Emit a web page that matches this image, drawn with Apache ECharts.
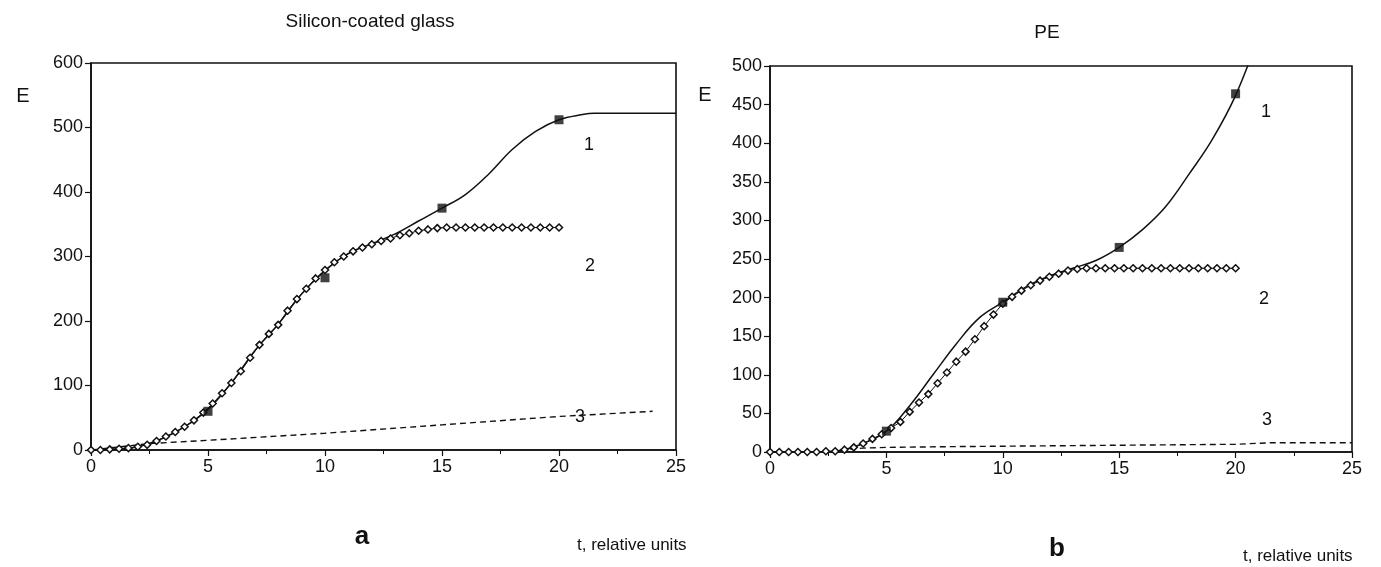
<!DOCTYPE html>
<html>
<head>
<meta charset="utf-8">
<style>
  html, body { margin: 0; padding: 0; background: #fff; }
  #chart { width: 1381px; height: 567px; }
</style>
<script src="https://cdn.jsdelivr.net/npm/echarts@6/dist/echarts.min.js"></script>
</head>
<body>
<div id="chart"></div>
<script>
// Sampling times of the open-marker curves (curve 2)
const tOpen = [0, 0.4, 0.8, 1.2, 1.6, 2, 2.4, 2.8, 3.2, 3.6, 4, 4.4, 4.8, 5.2, 5.6,
  6, 6.4, 6.8, 7.2, 7.6, 8, 8.4, 8.8, 9.2, 9.6, 10, 10.4, 10.8, 11.2, 11.6,
  12, 12.4, 12.8, 13.2, 13.6, 14, 14.4, 14.8, 15.2, 15.6, 16, 16.4, 16.8, 17.2, 17.6,
  18, 18.4, 18.8, 19.2, 19.6, 20];

// (a) Silicon-coated glass
const glassCurve2 = [0, 0, 1, 2, 3, 5, 8, 14, 21, 28, 36, 46, 58, 72, 88,
  104, 122, 143, 163, 180, 194, 216, 234, 250, 266, 279, 291, 300, 308, 314,
  319, 324, 328, 333, 336, 340, 342, 344, 345, 345, 345, 345, 345, 345, 345,
  345, 345, 345, 345, 345, 345];
const glassT1 = [0, 1, 2, 3, 4, 5, 6, 7, 8, 9, 10, 11, 12, 13, 14, 15, 16, 17, 18, 19, 20, 21, 21.5, 25];
const glassE1 = [0, 1, 5, 17, 36, 63, 104, 154, 195, 242, 278, 305, 320, 335, 355, 375, 396, 428, 466, 494, 512, 520, 522, 522];
const glassSqT = [5, 10, 15, 20];
const glassSqE = [60, 267, 375, 512];
const glassT3 = [0, 2.5, 5, 10, 15, 20, 24];
const glassE3 = [0, 10, 15, 26, 39, 52, 60];

// (b) PE
const peCurve2 = [0, 0, 0, 0, 0, 0, 1, 1, 3, 6, 11, 17, 23, 31, 39,
  52, 64, 75, 89, 103, 117, 130, 146, 163, 178, 192, 201, 209, 216, 222,
  227, 231, 235, 237, 238, 238, 238, 238, 238, 238, 238, 238, 238, 238, 238,
  238, 238, 238, 238, 238, 238];
const peT1 = [0, 1, 2, 3, 4, 5, 6, 7, 8, 9, 10, 11, 12, 13, 14, 15, 16, 17, 18, 19, 20, 21];
const peE1 = [0, 0, 0, 2, 11, 27, 60, 100, 140, 174, 194, 214, 228, 238, 248, 265, 288, 318, 360, 405, 462, 540];
const peSqT = [5, 10, 15, 20];
const peSqE = [27, 194, 265, 464];
const peT3 = [3, 4, 5, 8, 12, 16, 20, 21.5, 25];
const peE3 = [3, 5, 6, 7, 8, 9, 10, 12, 12];

const xTicks = [0, 5, 10, 15, 20, 25];
const glassYMax = 600, glassYStep = 100;
const peYMax = 500, peYStep = 50;

const zip = (xs, ys) => xs.map((x, i) => [x, ys[i]]);

const FONT = 'Liberation Sans, Arial, sans-serif';
const INK = '#111';

function xAxisFor(gridIndex) {
  return {
    type: 'value', gridIndex, min: 0, max: 25, interval: 5,
    axisLine: { show: true, lineStyle: { color: INK, width: 1.6 } },
    axisTick: { show: true, length: 6, lineStyle: { color: INK, width: 1.2 } },
    minorTick: { show: true, splitNumber: 2, length: 4, lineStyle: { color: INK, width: 1 } },
    axisLabel: { color: INK, fontFamily: FONT, fontSize: 18, margin: 8,
      formatter: v => xTicks.includes(v) ? String(v) : '' },
    splitLine: { show: false }
  };
}
function yAxisFor(gridIndex, max, step) {
  return {
    type: 'value', gridIndex, min: 0, max, interval: step,
    axisLine: { show: true, lineStyle: { color: INK, width: 1.6 } },
    axisTick: { show: true, length: 6, lineStyle: { color: INK, width: 1.2 } },
    axisLabel: { color: INK, fontFamily: FONT, fontSize: 18, margin: 8 },
    splitLine: { show: false }
  };
}

function curveSeries(idx, ts, es) {
  return { type: 'line', xAxisIndex: idx, yAxisIndex: idx, data: zip(ts, es),
    smooth: 0.4, symbol: 'none',
    lineStyle: { color: INK, width: 1.5 }, z: 3 };
}
function openSeries(idx, es) {
  return { type: 'line', xAxisIndex: idx, yAxisIndex: idx, data: zip(tOpen, es),
    symbol: 'diamond', symbolSize: [7, 7],
    itemStyle: { color: '#fff', borderColor: INK, borderWidth: 1.5 },
    lineStyle: { color: INK, width: 1 }, z: 4 };
}
function squareSeries(idx, ts, es) {
  return { type: 'scatter', xAxisIndex: idx, yAxisIndex: idx, data: zip(ts, es),
    symbol: 'rect', symbolSize: 9, itemStyle: { color: INK }, z: 5 };
}
function dashedSeries(idx, ts, es) {
  return { type: 'line', xAxisIndex: idx, yAxisIndex: idx, data: zip(ts, es),
    symbol: 'none', lineStyle: { color: INK, width: 1.4, type: [6, 4] }, z: 2 };
}

function text(x, y, str, size, weight, align) {
  return { type: 'text', x, y, style: { text: str, fill: INK,
    fontSize: size, fontFamily: FONT, fontWeight: weight || 'normal',
    textAlign: align || 'center', textVerticalAlign: 'middle' } };
}

const chart = echarts.init(document.getElementById('chart'), null, { renderer: 'canvas' });
chart.setOption({
  animation: false,
  backgroundColor: '#fff',
  grid: [
    { left: 91, top: 63, width: 585, height: 387, show: true, borderColor: INK, borderWidth: 1.6 },
    { left: 770, top: 66, width: 582, height: 386, show: true, borderColor: INK, borderWidth: 1.6 }
  ],
  xAxis: [xAxisFor(0), xAxisFor(1)],
  yAxis: [yAxisFor(0, glassYMax, glassYStep), yAxisFor(1, peYMax, peYStep)],
  series: [
    dashedSeries(0, glassT3, glassE3),
    curveSeries(0, glassT1, glassE1),
    openSeries(0, glassCurve2),
    squareSeries(0, glassSqT, glassSqE),
    dashedSeries(1, peT3, peE3),
    curveSeries(1, peT1, peE1),
    openSeries(1, peCurve2),
    squareSeries(1, peSqT, peSqE)
  ],
  graphic: [
    text(370, 22, 'Silicon-coated glass', 19),
    text(1047, 33, 'PE', 19),
    text(23, 96, 'E', 20),
    text(705, 95, 'E', 20),
    text(589, 145, '1', 18),
    text(590, 266, '2', 18),
    text(580, 417, '3', 18),
    text(1266, 112, '1', 18),
    text(1264, 299, '2', 18),
    text(1267, 420, '3', 18),
    text(362, 537, 'a', 26, 'bold'),
    text(1057, 549, 'b', 26, 'bold'),
    text(577, 545, 't, relative units', 17, 'normal', 'left'),
    text(1243, 556, 't, relative units', 17, 'normal', 'left')
  ]
});
</script>
</body>
</html>
